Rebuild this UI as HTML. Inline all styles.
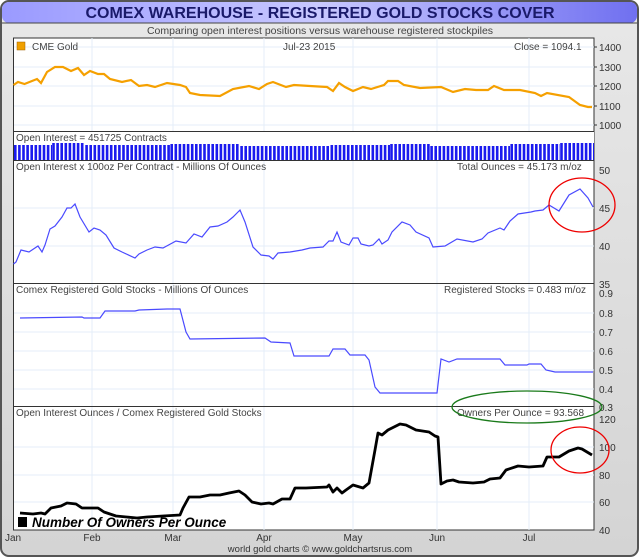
<!DOCTYPE html>
<html><head><meta charset="utf-8"><style>
html,body{margin:0;padding:0;background:#fff;}
svg{display:block;font-family:"Liberation Sans",sans-serif;}
</style></head><body>
<svg width="640" height="558" viewBox="0 0 640 558" xmlns="http://www.w3.org/2000/svg">
<defs>
<linearGradient id="bg" x1="0" y1="0" x2="0" y2="1"><stop offset="0" stop-color="#e8e8e8"/><stop offset="1" stop-color="#d4d4d4"/></linearGradient>
<linearGradient id="tb" x1="0" y1="0" x2="1" y2="0"><stop offset="0" stop-color="#9a9aff"/><stop offset="0.5" stop-color="#c8c8ff"/><stop offset="1" stop-color="#7070f0"/></linearGradient>
</defs>
<rect x="1" y="1" width="637" height="555" rx="8" fill="url(#bg)" stroke="#555" stroke-width="2"/>
<rect x="2" y="2" width="635" height="21" rx="7" fill="url(#tb)"/>
<line x1="2" y1="23" x2="637" y2="23" stroke="#444" stroke-width="1"/>
<text x="320" y="18" text-anchor="middle" font-size="16" font-weight="bold" fill="#1a1a6a">COMEX WAREHOUSE - REGISTERED GOLD STOCKS COVER</text>
<text x="320" y="34" text-anchor="middle" font-size="10.5" fill="#444">Comparing open interest positions versus warehouse registered stockpiles</text>
<rect x="13.5" y="38" width="580.5" height="492" fill="#fff" stroke="#333" stroke-width="1"/>
<g stroke="#e4eef8" stroke-width="1">
<line x1="92" y1="38" x2="92" y2="530"/><line x1="173" y1="38" x2="173" y2="530"/><line x1="264" y1="38" x2="264" y2="530"/><line x1="353" y1="38" x2="353" y2="530"/><line x1="437" y1="38" x2="437" y2="530"/><line x1="529" y1="38" x2="529" y2="530"/>
<line x1="14" y1="47" x2="594" y2="47"/><line x1="14" y1="67" x2="594" y2="67"/><line x1="14" y1="86" x2="594" y2="86"/><line x1="14" y1="106" x2="594" y2="106"/><line x1="14" y1="125" x2="594" y2="125"/>
<line x1="14" y1="208" x2="594" y2="208"/><line x1="14" y1="246" x2="594" y2="246"/>
<line x1="14" y1="313" x2="594" y2="313"/><line x1="14" y1="332" x2="594" y2="332"/><line x1="14" y1="351" x2="594" y2="351"/><line x1="14" y1="370" x2="594" y2="370"/><line x1="14" y1="389" x2="594" y2="389"/>
<line x1="14" y1="447" x2="594" y2="447"/><line x1="14" y1="475" x2="594" y2="475"/><line x1="14" y1="502" x2="594" y2="502"/>
</g>
<rect x="14" y="132" width="580" height="28" fill="#fff"/>
<g stroke="#333" stroke-width="1">
<line x1="13.5" y1="131.5" x2="594" y2="131.5"/><line x1="13.5" y1="160.5" x2="594" y2="160.5"/><line x1="13.5" y1="283.5" x2="594" y2="283.5"/><line x1="13.5" y1="406.5" x2="594" y2="406.5"/>
</g>
<g font-size="10" fill="#333">
<text x="599" y="51">1400</text><text x="599" y="71">1300</text><text x="599" y="90">1200</text><text x="599" y="110">1100</text><text x="599" y="129">1000</text>
<text x="599" y="174">50</text><text x="599" y="212">45</text><text x="599" y="250">40</text><text x="599" y="288">35</text>
<text x="599" y="297">0.9</text><text x="599" y="317">0.8</text><text x="599" y="336">0.7</text><text x="599" y="355">0.6</text><text x="599" y="374">0.5</text><text x="599" y="393">0.4</text><text x="599" y="411">0.3</text>
<text x="599" y="423">120</text><text x="599" y="451">100</text><text x="599" y="479">80</text><text x="599" y="506">60</text><text x="599" y="534">40</text>
</g>
<g stroke="#333"><line x1="594" y1="47" x2="597" y2="47"/><line x1="594" y1="67" x2="597" y2="67"/><line x1="594" y1="86" x2="597" y2="86"/><line x1="594" y1="106" x2="597" y2="106"/><line x1="594" y1="125" x2="597" y2="125"/></g>
<g font-size="10" fill="#333" text-anchor="middle">
<text x="13" y="541">Jan</text><text x="92" y="541">Feb</text><text x="173" y="541">Mar</text><text x="264" y="541">Apr</text><text x="353" y="541">May</text><text x="437" y="541">Jun</text><text x="529" y="541">Jul</text>
<text x="320" y="552" font-size="9.5">world gold charts © www.goldchartsrus.com</text>
</g>
<g font-size="10" fill="#444">
<rect x="17" y="42" width="8" height="8" fill="#f0a000" stroke="#a06000" stroke-width="0.5"/>
<text x="32" y="50">CME Gold</text><text x="283" y="50">Jul-23  2015</text><text x="514" y="50">Close = 1094.1</text>
<text x="16" y="141">Open Interest = 451725 Contracts</text>
<text x="16" y="170">Open Interest x 100oz Per Contract  -  Millions Of Ounces</text><text x="457" y="170">Total Ounces = 45.173 m/oz</text>
<text x="16" y="293">Comex Registered Gold Stocks  -  Millions Of Ounces</text><text x="444" y="293">Registered Stocks = 0.483 m/oz</text>
<text x="16" y="416">Open Interest Ounces / Comex Registered Gold Stocks</text><text x="457" y="416">Owners Per Ounce = 93.568</text>
</g>
<polyline fill="none" stroke="#f5a000" stroke-width="2.2" points="13.5,85 18,82 24.5,84 37,79 41,83 47,72 55,67 63,67 71,71 78,68 84,75 90,71 98,74 104,74 110,79 122,82 131,80 139,86 147,85 155,87 167,83 180,85 186,87 190,93 200,95 220,96 233,89 249,86 259,89 267,84 273,82 286,87 294,85 310,86 327,87 333,91 339,83 345,87 353,91 363,87 371,89 384,85 388,81 398,81 404,85 420,88 441,87 453,92 465,89 476,90 488,90 494,86 504,90 520,90 535,93 541,96 547,93 569,97 580,105 588,107 592,107"/>
<g fill="none" stroke="#1a1aee" stroke-dasharray="2.6 1.5">
<line x1="14" y1="152.5" x2="52" y2="152.5" stroke-width="15"/>
<line x1="52.2" y1="151.5" x2="85" y2="151.5" stroke-width="17"/>
<line x1="85.3" y1="152.5" x2="170" y2="152.5" stroke-width="15"/>
<line x1="170.4" y1="152" x2="240" y2="152" stroke-width="16"/>
<line x1="240.3" y1="153" x2="330" y2="153" stroke-width="14"/>
<line x1="330.5" y1="152.5" x2="390" y2="152.5" stroke-width="15"/>
<line x1="390.2" y1="152" x2="430" y2="152" stroke-width="16"/>
<line x1="430.3" y1="153" x2="510" y2="153" stroke-width="14"/>
<line x1="510.4" y1="152" x2="560" y2="152" stroke-width="16"/>
<line x1="560.2" y1="151.5" x2="594" y2="151.5" stroke-width="17"/>
</g>
<polyline fill="none" stroke="#4a4aff" stroke-width="1.2" points="13.5,264 16,262 21,250 29,252 38,246 42,252 45,245 50,229 55,226 62,217 67,208 71,208 75,204 80,217 89,232 94,228 100,230 106,235 114,248 122,252 135,258 139,254 147,250 155,247 163,248 176,241 186,243 194,234 202,237 210,227 218,226 227,222 233,217 240,210 245,222 253,247 261,255 269,256 273,259 278,253 290,252 302,250 310,248 323,247 329,241 333,241 337,232 341,242 349,245 353,238 358,238 361,244 369,246 373,245 379,239 382,244 388,240 392,232 402,222 410,225 416,232 429,238 433,247 445,246 457,239 473,242 482,239 488,233 500,228 504,230 510,221 518,214 531,212 535,211 543,210 549,205 559,211 569,195 580,189 588,198 593,207"/>
<polyline fill="none" stroke="#4a4aff" stroke-width="1.2" points="20,318 82,317 84,318 100,318 105,311 135,311 139,310 167,309 180,309 186,332 190,339 265,338 271,342 290,343 294,356 329,356 333,349 345,349 350,355 365,355 369,360 375,387 380,393 437,393 441,359 449,362 457,359 500,359 505,365 527,365 529,364 541,364 546,370 555,372 593,372"/>
<polyline fill="none" stroke="#000" stroke-width="2.8" stroke-linejoin="round" points="20,513 33,514 41,513 45,514 51,508 61,506 67,503 76,504 82,508 98,508 104,512 116,516 137,518 147,517 163,516 180,515 183,508 189,497 200,497 210,495 220,495 229,493 239,491 245,495 252,502 261,504 269,503 273,504 282,499 290,499 295,488 306,488 327,487 329,485 333,492 337,488 342,493 346,490 353,485 363,488 369,483 375,450 378,433 382,435 388,430 400,424 406,425 416,430 429,432 435,436 438,437 441,484 447,481 453,480 459,482 473,483 484,482 490,479 500,478 506,470 518,466 529,467 543,466 547,457 559,457 569,451 578,448 582,449 592,455"/>
<rect x="18" y="517" width="9" height="10" fill="#000"/>
<text x="32" y="527" font-size="13.5" font-weight="bold" font-style="italic" fill="#000">Number Of Owners Per Ounce</text>
<ellipse cx="582" cy="205" rx="33" ry="27" fill="none" stroke="#e00" stroke-width="1.3"/>
<ellipse cx="580" cy="450" rx="29" ry="23" fill="none" stroke="#e00" stroke-width="1.3"/>
<ellipse cx="527" cy="407" rx="75" ry="16" fill="none" stroke="#1a7a1a" stroke-width="1.3"/>
</svg>
</body></html>
